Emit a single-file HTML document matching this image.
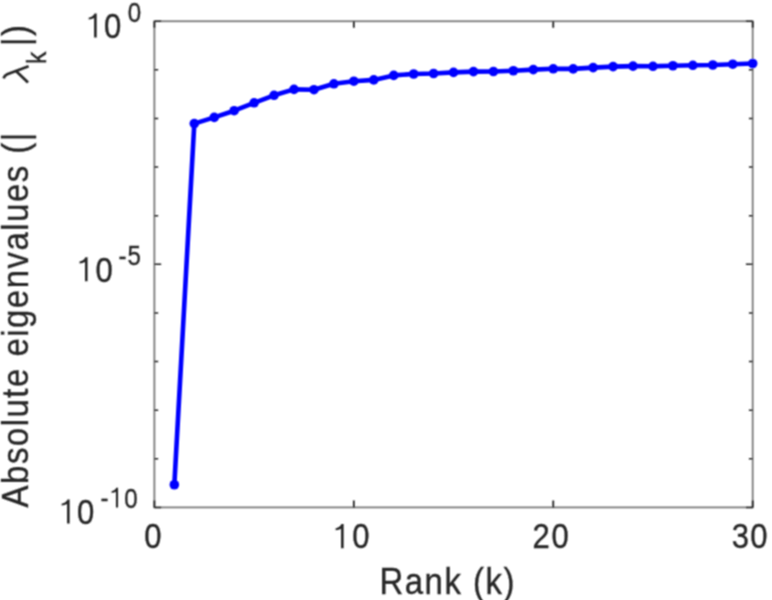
<!DOCTYPE html>
<html><head><meta charset="utf-8"><style>
html,body{margin:0;padding:0;background:#fff;width:772px;height:600px;overflow:hidden}
svg{display:block;font-family:"Liberation Sans",sans-serif}
text{stroke:#262626;stroke-width:0.35px}
</style></head><body>
<svg width="772" height="600" viewBox="0 0 772 600">
<defs><filter id="bl" x="-5%" y="-5%" width="110%" height="110%"><feConvolveMatrix order="3" kernelMatrix="1 2 1 2 4 2 1 2 1" preserveAlpha="false" edgeMode="none"/></filter></defs>
<rect width="772" height="600" fill="#fff"/>
<g fill="#262626" filter="url(#bl)">
<g>
<rect x="154.4" y="21.25" width="598.30" height="486.15" fill="none" stroke="#7a7a7a" stroke-width="1.8"/>
<path d="M154.4 21.25h6.8M752.7 21.25h-6.8" stroke="#222" stroke-width="1.5"/>
<path d="M154.4 69.86h3.8M752.7 69.86h-3.8" stroke="#222" stroke-width="1.5"/>
<path d="M154.4 118.48h3.8M752.7 118.48h-3.8" stroke="#222" stroke-width="1.5"/>
<path d="M154.4 167.09h3.8M752.7 167.09h-3.8" stroke="#222" stroke-width="1.5"/>
<path d="M154.4 215.71h3.8M752.7 215.71h-3.8" stroke="#222" stroke-width="1.5"/>
<path d="M154.4 264.32h6.8M752.7 264.32h-6.8" stroke="#222" stroke-width="1.5"/>
<path d="M154.4 312.94h3.8M752.7 312.94h-3.8" stroke="#222" stroke-width="1.5"/>
<path d="M154.4 361.55h3.8M752.7 361.55h-3.8" stroke="#222" stroke-width="1.5"/>
<path d="M154.4 410.17h3.8M752.7 410.17h-3.8" stroke="#222" stroke-width="1.5"/>
<path d="M154.4 458.78h3.8M752.7 458.78h-3.8" stroke="#222" stroke-width="1.5"/>
<path d="M154.4 507.40h6.8M752.7 507.40h-6.8" stroke="#222" stroke-width="1.5"/>
<path d="M154.40 507.4v-7M154.40 21.25v6.5" stroke="#222" stroke-width="1.8"/>
<path d="M353.83 507.4v-7M353.83 21.25v6.5" stroke="#222" stroke-width="1.8"/>
<path d="M553.27 507.4v-7M553.27 21.25v6.5" stroke="#222" stroke-width="1.8"/>
<path d="M752.70 507.4v-7M752.70 21.25v6.5" stroke="#222" stroke-width="1.8"/>
<polyline points="174.34,484.75 194.29,123.60 214.23,117.40 234.17,110.70 254.12,102.80 274.06,95.30 294.00,89.40 313.95,89.70 333.89,83.80 353.83,81.20 373.78,79.90 393.72,75.40 413.66,74.00 433.61,73.50 453.55,72.40 473.49,71.60 493.44,71.50 513.38,70.75 533.32,69.60 553.27,68.80 573.21,68.90 593.15,67.60 613.10,66.60 633.04,66.10 652.98,66.30 672.93,65.75 692.87,65.30 712.81,65.00 732.76,64.20 752.70,63.50" fill="none" stroke="#0000ff" stroke-width="4.6" stroke-linejoin="round" stroke-linecap="round"/>
<circle cx="174.34" cy="484.75" r="4.8" fill="#0000ff"/>
<circle cx="194.29" cy="123.60" r="4.8" fill="#0000ff"/>
<circle cx="214.23" cy="117.40" r="4.8" fill="#0000ff"/>
<circle cx="234.17" cy="110.70" r="4.8" fill="#0000ff"/>
<circle cx="254.12" cy="102.80" r="4.8" fill="#0000ff"/>
<circle cx="274.06" cy="95.30" r="4.8" fill="#0000ff"/>
<circle cx="294.00" cy="89.40" r="4.8" fill="#0000ff"/>
<circle cx="313.95" cy="89.70" r="4.8" fill="#0000ff"/>
<circle cx="333.89" cy="83.80" r="4.8" fill="#0000ff"/>
<circle cx="353.83" cy="81.20" r="4.8" fill="#0000ff"/>
<circle cx="373.78" cy="79.90" r="4.8" fill="#0000ff"/>
<circle cx="393.72" cy="75.40" r="4.8" fill="#0000ff"/>
<circle cx="413.66" cy="74.00" r="4.8" fill="#0000ff"/>
<circle cx="433.61" cy="73.50" r="4.8" fill="#0000ff"/>
<circle cx="453.55" cy="72.40" r="4.8" fill="#0000ff"/>
<circle cx="473.49" cy="71.60" r="4.8" fill="#0000ff"/>
<circle cx="493.44" cy="71.50" r="4.8" fill="#0000ff"/>
<circle cx="513.38" cy="70.75" r="4.8" fill="#0000ff"/>
<circle cx="533.32" cy="69.60" r="4.8" fill="#0000ff"/>
<circle cx="553.27" cy="68.80" r="4.8" fill="#0000ff"/>
<circle cx="573.21" cy="68.90" r="4.8" fill="#0000ff"/>
<circle cx="593.15" cy="67.60" r="4.8" fill="#0000ff"/>
<circle cx="613.10" cy="66.60" r="4.8" fill="#0000ff"/>
<circle cx="633.04" cy="66.10" r="4.8" fill="#0000ff"/>
<circle cx="652.98" cy="66.30" r="4.8" fill="#0000ff"/>
<circle cx="672.93" cy="65.75" r="4.8" fill="#0000ff"/>
<circle cx="692.87" cy="65.30" r="4.8" fill="#0000ff"/>
<circle cx="712.81" cy="65.00" r="4.8" fill="#0000ff"/>
<circle cx="732.76" cy="64.20" r="4.8" fill="#0000ff"/>
<circle cx="752.70" cy="63.50" r="4.8" fill="#0000ff"/>
<text transform="translate(144.27,548.20) scale(0.9,1.0)" font-size="34.5">0</text>
<path transform="translate(342.35,548.20) scale(1.0000)" d="M1.3 0L1.3 -24.1L-0.9 -24.1C-1.6 -22.4 -3.2 -20.8 -6.75 -19.8L-6.75 -17.9C-4.5 -18.1 -2.6 -18.6 -1.3 -19.4L-1.3 0Z"/>
<text transform="translate(352.27,548.20) scale(0.9,1.0)" font-size="34.5">0</text>
<text transform="translate(532.62,548.20) scale(0.9,1.0)" font-size="34.5">2</text>
<text transform="translate(551.57,548.20) scale(0.9,1.0)" font-size="34.5">0</text>
<text transform="translate(731.80,548.20) scale(0.9,1.0)" font-size="34.5">3</text>
<text transform="translate(750.27,548.20) scale(0.9,1.0)" font-size="34.5">0</text>
<path transform="translate(95.40,37.50) scale(1.0000)" d="M1.3 0L1.3 -24.1L-0.9 -24.1C-1.6 -22.4 -3.2 -20.8 -6.75 -19.8L-6.75 -17.9C-4.5 -18.1 -2.6 -18.6 -1.3 -19.4L-1.3 0Z"/>
<text transform="translate(104.07,37.70) scale(0.9,1.0)" font-size="34.5">0</text>
<text transform="translate(127.64,21.50) scale(0.86,1.0)" font-size="28.0">0</text>
<path transform="translate(86.30,281.30) scale(1.0000)" d="M1.3 0L1.3 -24.1L-0.9 -24.1C-1.6 -22.4 -3.2 -20.8 -6.75 -19.8L-6.75 -17.9C-4.5 -18.1 -2.6 -18.6 -1.3 -19.4L-1.3 0Z"/>
<text transform="translate(95.57,281.90) scale(0.9,1.0)" font-size="34.5">0</text>
<text transform="translate(118.62,265.00) scale(0.86,1.0)" font-size="28.0">-</text>
<text transform="translate(127.52,265.00) scale(0.86,1.0)" font-size="28.0">5</text>
<path transform="translate(68.35,523.50) scale(1.0000)" d="M1.3 0L1.3 -24.1L-0.9 -24.1C-1.6 -22.4 -3.2 -20.8 -6.75 -19.8L-6.75 -17.9C-4.5 -18.1 -2.6 -18.6 -1.3 -19.4L-1.3 0Z"/>
<text transform="translate(76.97,524.10) scale(0.9,1.0)" font-size="34.5">0</text>
<text transform="translate(100.42,507.30) scale(0.86,1.0)" font-size="28.0">-</text>
<path transform="translate(117.00,507.40) scale(0.8116)" d="M1.3 0L1.3 -24.1L-0.9 -24.1C-1.6 -22.4 -3.2 -20.8 -6.75 -19.8L-6.75 -17.9C-4.5 -18.1 -2.6 -18.6 -1.3 -19.4L-1.3 0Z"/>
<text transform="translate(124.24,507.60) scale(0.86,1.0)" font-size="28.0">0</text>
<text transform="translate(379.50,594.2) scale(0.91,1)" font-size="36.2" letter-spacing="1.65">Rank (k)</text>
<text transform="translate(27.6,507.4) rotate(-90) scale(0.91,1)" font-size="36.2" letter-spacing="1.65">Absolute eigenvalues (|</text>
<path d="M3.6 78.4C4.2 76.2 5.3 75.0 7.2 74.2L28.6 66.3M16.5 71.6L28.0 82.4" fill="none" stroke="#262626" stroke-width="2.8" stroke-linecap="butt"/>
<text transform="translate(45.6,64.0) rotate(-90) scale(0.91,1)" font-size="27.15">k</text>
<text transform="translate(27.6,46.0) rotate(-90) scale(0.91,1)" font-size="36.2" letter-spacing="1.65">|)</text>
</g></g>
</svg>
</body></html>
